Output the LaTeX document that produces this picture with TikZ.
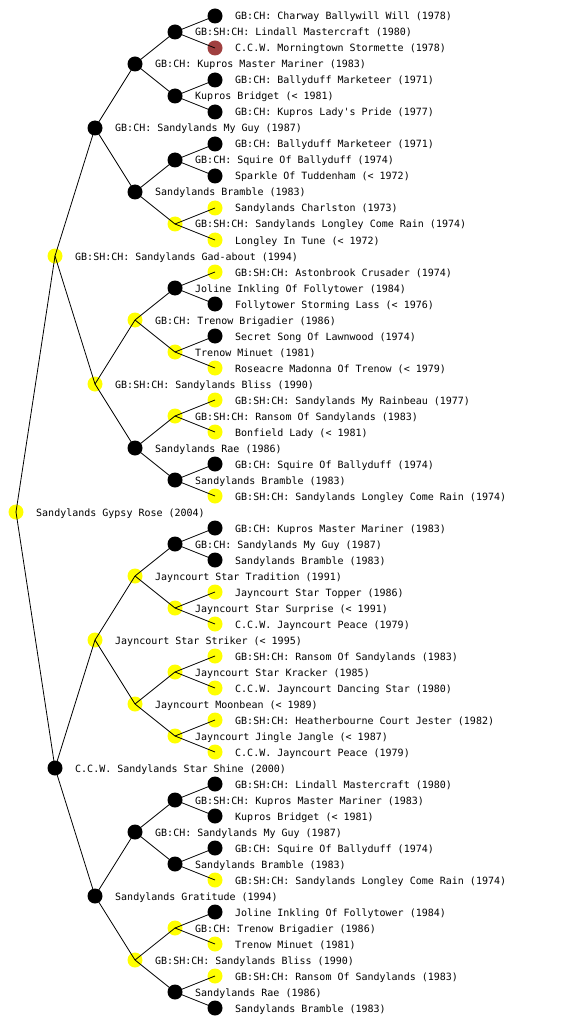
\documentclass[tikz,border=0pt]{standalone}
\usepackage{fontspec}
\usetikzlibrary{patterns.meta}
\newfontfamily\pedfont{DejaVu Sans Mono}
\definecolor{nyel}{RGB}{255,255,0}
\definecolor{nblk}{RGB}{0,0,0}
\definecolor{nred}{RGB}{160,64,64}
\tikzdeclarepattern{
  name=ndots,
  type=uncolored,
  bounding box={(0pt,0pt) and (4.5pt,4.5pt)},
  tile size={(4.5pt,4.5pt)},
  code={\fill (2.25pt,2.25pt) circle (0.55pt);}
}
\tikzset{
  pn/.style={circle, inner sep=0pt, minimum size=15pt, draw=none, pattern=ndots, pattern color=white},
  lbl/.style={anchor=base west, inner sep=0pt, font=\pedfont\fontsize{10}{12}\selectfont},
  edge/.style={draw=black, line width=0.8pt}
}
\newcommand\pnode[5]{\node[pn,fill=#4] (#1) at (#2,#3) {}; \path (#1.center) ++(20,4) node[lbl] (#1t) {#5};}
\begin{document}
\begin{tikzpicture}[x=1pt,y=-1pt]
\fill[white] (0,0) rectangle (560,1024);
\useasboundingbox (0,0) rectangle (560,1024);
% generation 0-3
\pnode{r}{16}{512}{nyel}{Sandylands Gypsy Rose (2004)}
\pnode{a1}{55}{256}{nyel}{GB:SH:CH: Sandylands Gad-about (1994)}
\pnode{a2}{55}{768}{nblk}{C.C.W. Sandylands Star Shine (2000)}
\pnode{b1}{95}{128}{nblk}{GB:CH: Sandylands My Guy (1987)}
\pnode{b2}{95}{384}{nyel}{GB:SH:CH: Sandylands Bliss (1990)}
\pnode{b3}{95}{640}{nyel}{Jayncourt Star Striker (< 1995)}
\pnode{b4}{95}{896}{nblk}{Sandylands Gratitude (1994)}
\pnode{c1}{135}{64}{nblk}{GB:CH: Kupros Master Mariner (1983)}
\pnode{c2}{135}{192}{nblk}{Sandylands Bramble (1983)}
\pnode{c3}{135}{320}{nyel}{GB:CH: Trenow Brigadier (1986)}
\pnode{c4}{135}{448}{nblk}{Sandylands Rae (1986)}
\pnode{c5}{135}{576}{nyel}{Jayncourt Star Tradition (1991)}
\pnode{c6}{135}{704}{nyel}{Jayncourt Moonbean (< 1989)}
\pnode{c7}{135}{832}{nblk}{GB:CH: Sandylands My Guy (1987)}
\pnode{c8}{135}{960}{nyel}{GB:SH:CH: Sandylands Bliss (1990)}
% generation 4
\pnode{d1}{175}{32}{nblk}{GB:SH:CH: Lindall Mastercraft (1980)}
\pnode{d2}{175}{96}{nblk}{Kupros Bridget (< 1981)}
\pnode{d3}{175}{160}{nblk}{GB:CH: Squire Of Ballyduff (1974)}
\pnode{d4}{175}{224}{nyel}{GB:SH:CH: Sandylands Longley Come Rain (1974)}
\pnode{d5}{175}{288}{nblk}{Joline Inkling Of Follytower (1984)}
\pnode{d6}{175}{352}{nyel}{Trenow Minuet (1981)}
\pnode{d7}{175}{416}{nyel}{GB:SH:CH: Ransom Of Sandylands (1983)}
\pnode{d8}{175}{480}{nblk}{Sandylands Bramble (1983)}
\pnode{d9}{175}{544}{nblk}{GB:CH: Sandylands My Guy (1987)}
\pnode{d10}{175}{608}{nyel}{Jayncourt Star Surprise (< 1991)}
\pnode{d11}{175}{672}{nyel}{Jayncourt Star Kracker (1985)}
\pnode{d12}{175}{736}{nyel}{Jayncourt Jingle Jangle (< 1987)}
\pnode{d13}{175}{800}{nblk}{GB:SH:CH: Kupros Master Mariner (1983)}
\pnode{d14}{175}{864}{nblk}{Sandylands Bramble (1983)}
\pnode{d15}{175}{928}{nyel}{GB:CH: Trenow Brigadier (1986)}
\pnode{d16}{175}{992}{nblk}{Sandylands Rae (1986)}
% generation 5
\pnode{e1}{215}{16}{nblk}{GB:CH: Charway Ballywill Will (1978)}
\pnode{e2}{215}{48}{nred}{C.C.W. Morningtown Stormette (1978)}
\pnode{e3}{215}{80}{nblk}{GB:CH: Ballyduff Marketeer (1971)}
\pnode{e4}{215}{112}{nblk}{GB:CH: Kupros Lady's Pride (1977)}
\pnode{e5}{215}{144}{nblk}{GB:CH: Ballyduff Marketeer (1971)}
\pnode{e6}{215}{176}{nblk}{Sparkle Of Tuddenham (< 1972)}
\pnode{e7}{215}{208}{nyel}{Sandylands Charlston (1973)}
\pnode{e8}{215}{240}{nyel}{Longley In Tune (< 1972)}
\pnode{e9}{215}{272}{nyel}{GB:SH:CH: Astonbrook Crusader (1974)}
\pnode{e10}{215}{304}{nblk}{Follytower Storming Lass (< 1976)}
\pnode{e11}{215}{336}{nblk}{Secret Song Of Lawnwood (1974)}
\pnode{e12}{215}{368}{nyel}{Roseacre Madonna Of Trenow (< 1979)}
\pnode{e13}{215}{400}{nyel}{GB:SH:CH: Sandylands My Rainbeau (1977)}
\pnode{e14}{215}{432}{nyel}{Bonfield Lady (< 1981)}
\pnode{e15}{215}{464}{nblk}{GB:CH: Squire Of Ballyduff (1974)}
\pnode{e16}{215}{496}{nyel}{GB:SH:CH: Sandylands Longley Come Rain (1974)}
\pnode{e17}{215}{528}{nblk}{GB:CH: Kupros Master Mariner (1983)}
\pnode{e18}{215}{560}{nblk}{Sandylands Bramble (1983)}
\pnode{e19}{215}{592}{nyel}{Jayncourt Star Topper (1986)}
\pnode{e20}{215}{624}{nyel}{C.C.W. Jayncourt Peace (1979)}
\pnode{e21}{215}{656}{nyel}{GB:SH:CH: Ransom Of Sandylands (1983)}
\pnode{e22}{215}{688}{nyel}{C.C.W. Jayncourt Dancing Star (1980)}
\pnode{e23}{215}{720}{nyel}{GB:SH:CH: Heatherbourne Court Jester (1982)}
\pnode{e24}{215}{752}{nyel}{C.C.W. Jayncourt Peace (1979)}
\pnode{e25}{215}{784}{nblk}{GB:SH:CH: Lindall Mastercraft (1980)}
\pnode{e26}{215}{816}{nblk}{Kupros Bridget (< 1981)}
\pnode{e27}{215}{848}{nblk}{GB:CH: Squire Of Ballyduff (1974)}
\pnode{e28}{215}{880}{nyel}{GB:SH:CH: Sandylands Longley Come Rain (1974)}
\pnode{e29}{215}{912}{nblk}{Joline Inkling Of Follytower (1984)}
\pnode{e30}{215}{944}{nyel}{Trenow Minuet (1981)}
\pnode{e31}{215}{976}{nyel}{GB:SH:CH: Ransom Of Sandylands (1983)}
\pnode{e32}{215}{1008}{nblk}{Sandylands Bramble (1983)}
% connectors
\foreach \p/\s/\d in {r/a1/a2, a1/b1/b2, a2/b3/b4,
  b1/c1/c2, b2/c3/c4, b3/c5/c6, b4/c7/c8,
  c1/d1/d2, c2/d3/d4, c3/d5/d6, c4/d7/d8, c5/d9/d10, c6/d11/d12, c7/d13/d14, c8/d15/d16,
  d1/e1/e2, d2/e3/e4, d3/e5/e6, d4/e7/e8, d5/e9/e10, d6/e11/e12, d7/e13/e14, d8/e15/e16,
  d9/e17/e18, d10/e19/e20, d11/e21/e22, d12/e23/e24, d13/e25/e26, d14/e27/e28, d15/e29/e30, d16/e31/e32}
{
  \draw[edge] (\p.center) -- (\s.center);
  \draw[edge] (\p.center) -- (\d.center);
}
\end{tikzpicture}
\end{document}
